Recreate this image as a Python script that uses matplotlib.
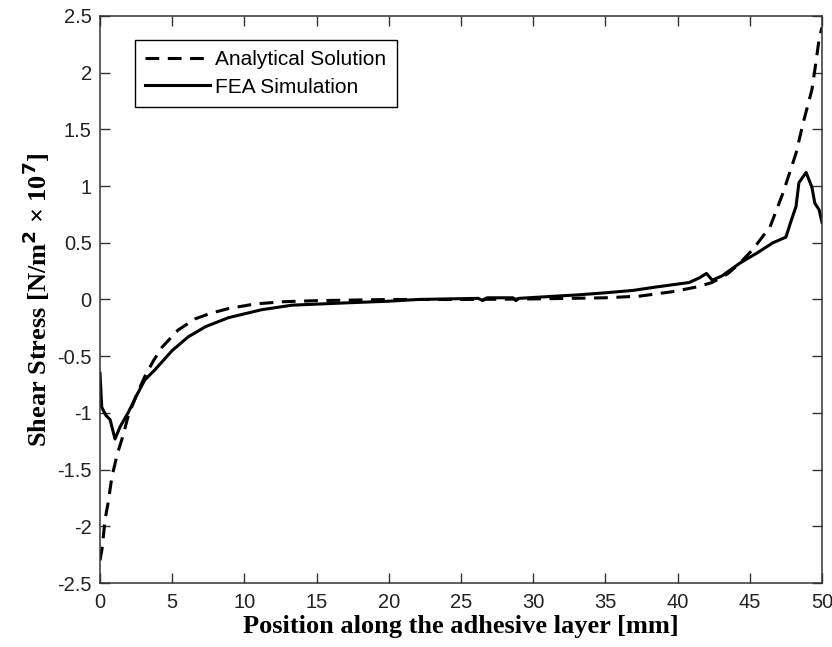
import numpy as np
import matplotlib.pyplot as plt

# Analytical solution
x_ana = [0, 0.14, 0.35, 0.55, 0.83, 1.2, 1.5, 1.95, 2.5, 3.1, 3.7, 4.3, 5.4, 6.6,
         7.7, 8.9, 10.7, 12.6, 15, 20, 25, 30, 35, 37.4, 39.7, 41.3, 42.4, 43.5,
         44.3, 45.2, 46.4, 47.3, 48.2, 48.7, 49.3, 49.6, 49.8, 50]
y_ana = [-2.30, -2.20, -1.94, -1.80, -1.56, -1.36, -1.24, -1.03, -0.85, -0.68,
         -0.54, -0.42, -0.27, -0.17, -0.12, -0.08, -0.04, -0.02, -0.01, 0.0, 0.0,
         0.005, 0.015, 0.03, 0.07, 0.11, 0.15, 0.23, 0.32, 0.44, 0.64, 0.94, 1.29,
         1.56, 1.85, 2.11, 2.30, 2.40]

# FEA simulation
x_fea = [0, 0.12, 0.4, 0.7, 1.04, 1.4, 1.94, 2.6, 3.1, 3.8, 5.0, 6.1, 7.3, 8.9,
         11.2, 13.3, 17, 20, 22, 24, 26.2, 26.5, 26.8, 28.6, 28.8, 29, 31.6, 33,
         35.1, 36.9, 38.5, 40.8, 41.5, 42.0, 42.4, 43.1, 44.3, 45.5, 46.6, 47.5,
         47.8, 48.2, 48.4, 48.9, 49.3, 49.5, 49.8, 50]
y_fea = [-0.65, -0.95, -1.02, -1.06, -1.23, -1.12, -1.00, -0.83, -0.71, -0.62,
         -0.45, -0.33, -0.24, -0.16, -0.09, -0.05, -0.03, -0.015, 0.0, 0.005,
         0.01, -0.01, 0.015, 0.015, -0.01, 0.01, 0.03, 0.04, 0.06, 0.08, 0.11,
         0.15, 0.19, 0.23, 0.17, 0.21, 0.32, 0.41, 0.50, 0.55, 0.67, 0.82, 1.03,
         1.12, 0.99, 0.85, 0.79, 0.68]

x_ticks = np.arange(0, 51, 5)
y_ticks = [-2.5, -2, -1.5, -1, -0.5, 0, 0.5, 1, 1.5, 2, 2.5]
y_labels = ['-2.5', '-2', '-1.5', '-1', '-0.5', '0', '0.5', '1', '1.5', '2', '2.5']

fig = plt.figure(figsize=(8.32, 6.47), dpi=100)
ax = fig.add_axes([0.1202, 0.0989, 0.8678, 0.8764])

ax.plot(x_ana, y_ana, color='black', lw=2.2, dashes=(4.5, 2.8),
        label='Analytical Solution')
ax.plot(x_fea, y_fea, color='black', lw=2.2, label='FEA Simulation')

ax.set_xlim(0, 50)
ax.set_ylim(-2.5, 2.5)
ax.set_xticks(x_ticks)
ax.set_yticks(y_ticks)
ax.set_yticklabels(y_labels)

for s in ax.spines.values():
    s.set_linewidth(1.1)
    s.set_color('#333333')
ax.tick_params(direction='in', length=7, width=1, top=True, right=True,
               colors='#333333', labelsize=14.5)
ax.tick_params(axis='x', pad=7)
ax.tick_params(axis='y', pad=6)
for lab in ax.get_xticklabels() + ax.get_yticklabels():
    lab.set_family('Liberation Sans')
    lab.set_color('#222222')

ax.set_xlabel('Position along the adhesive layer [mm]', family='Liberation Serif',
              fontweight='bold', fontsize=19, labelpad=2)
ax.set_ylabel(r'Shear Stress [N/m$^\mathbf{2}$ × 10$^\mathbf{7}$]', family='Liberation Serif',
              fontweight='bold', fontsize=19, labelpad=4)

leg = ax.legend(loc='upper left', bbox_to_anchor=(0.0485, 0.9577), borderaxespad=0,
                fancybox=False, framealpha=1, edgecolor='black', handlelength=3.1,
                handletextpad=0.25, prop={'family': 'Liberation Sans', 'size': 15},
                borderpad=0.5, labelspacing=0.4)
leg.get_frame().set_linewidth(1.0)

fig.savefig('out.png', dpi=100)
